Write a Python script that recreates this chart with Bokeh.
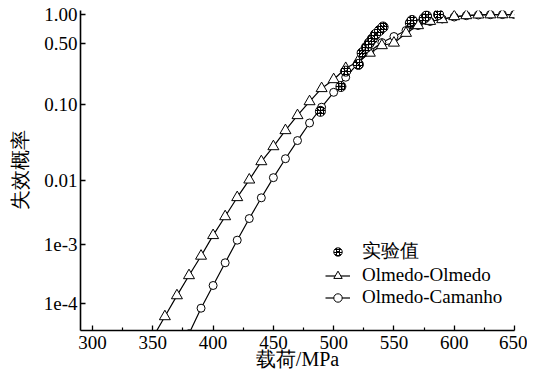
import numpy as np
from bokeh.plotting import figure
from bokeh.models import FixedTicker, Range1d, Legend, LegendItem, ColumnDataSource
from bokeh.embed import file_html
from bokeh.resources import INLINE

# ---------------- data ----------------
load_oo = [350, 360, 370, 380, 390, 400, 410, 420, 430, 440, 450, 460, 470, 480,
           490, 500, 510, 520, 530, 540, 550, 560, 570, 580, 590, 600, 610, 620,
           630, 640, 650]
prob_oo = [2.59e-5, 5.91e-5, 1.35e-4, 2.98e-4, 6.43e-4, 1.40e-3, 2.75e-3, 5.45e-3,
           0.0102, 0.0178, 0.0281, 0.0458, 0.0723, 0.109, 0.154, 0.195, 0.262,
           0.312, 0.392, 0.478, 0.510, 0.643, 0.771, 0.853, 0.889, 0.954, 0.977,
           0.993, 0.996, 0.998, 0.999]

load_oc = [380, 390, 400, 410, 420, 430, 440, 450, 460, 470, 480, 490, 500, 510,
           520, 530, 540, 550, 560, 570, 580, 590, 600, 610, 620, 630, 640, 650]
prob_oc = [3.0e-5, 8.21e-5, 2.01e-4, 4.92e-4, 1.18e-3, 2.56e-3, 5.38e-3, 0.0109,
           0.0194, 0.0337, 0.0575, 0.0929, 0.139, 0.207, 0.297, 0.41, 0.515,
           0.594, 0.685, 0.771, 0.847, 0.899, 0.942, 0.972, 0.988, 0.995, 0.998,
           0.999]

load_exp = [489, 506, 510, 520.5, 523.6, 527, 529.6, 532, 534.6, 538, 541,
            563.6, 565, 575, 577, 587]
prob_exp = [0.082, 0.162, 0.243, 0.290, 0.393, 0.454, 0.510, 0.560, 0.623,
            0.685, 0.744, 0.818, 0.868, 0.910, 0.965, 1.0]

x_ticks = [300, 350, 400, 450, 500, 550, 600, 650]
x_minor = [325, 375, 425, 475, 525, 575, 625]
y_tick_values = [1e-4, 1e-3, 0.01, 0.1, 0.5, 1.0]
y_tick_labels = ["1e-4", "1e-3", "0.01", "0.10", "0.50", "1.00"]

# probability-paper scale of the reference: place of each labelled probability
y_scale_pos = [27.3, 85.7, 150.0, 225.7, 286.7, 316.0]


def prob_scale(F):
    lf = np.log10(np.asarray(F, dtype=float))
    lt = np.log10(np.asarray(y_tick_values))
    pos = np.asarray(y_scale_pos)
    out = np.interp(lf, lt, pos)
    lo = lf < lt[0]
    slope = (pos[1] - pos[0]) / (lt[1] - lt[0])
    out[lo] = pos[0] + (lf[lo] - lt[0]) * slope
    return out


FONT = "Liberation Serif"

p = figure(frame_width=434, frame_height=320, output_backend="svg",
           toolbar_location=None, x_range=Range1d(290, 650),
           y_range=Range1d(0, 320), min_border_left=80, min_border_right=13,
           min_border_top=10, min_border_bottom=46)
p.outline_line_color = None
p.grid.visible = False
p.background_fill_color = "white"

src_oo = ColumnDataSource(dict(x=load_oo, y=prob_scale(prob_oo)))
src_oc = ColumnDataSource(dict(x=load_oc, y=prob_scale(prob_oc)))
src_ex = ColumnDataSource(dict(x=load_exp, y=prob_scale(prob_exp)))

l_oc = p.line("x", "y", source=src_oc, line_color="black", line_width=1.2)
m_oc = p.scatter("x", "y", source=src_oc, marker="circle", size=8,
                 fill_color="white", line_color="black", line_width=1)
l_oo = p.line("x", "y", source=src_oo, line_color="black", line_width=1.2)
m_oo = p.scatter("x", "y", source=src_oo, marker="triangle", size=11,
                 fill_color="white", line_color="black", line_width=1)
m_ex = p.scatter("x", "y", source=src_ex, marker="circle_x", size=10,
                 fill_color="white", line_color="black", line_width=1,
                 hatch_pattern="cross", hatch_scale=3.0, hatch_weight=1.0,
                 hatch_color="black")

# axes
xa = p.xaxis[0]
xa.ticker = FixedTicker(ticks=x_ticks, minor_ticks=x_minor)
xa.axis_label = "载荷/MPa"
ya = p.yaxis[0]
pos_ticks = [float(v) for v in prob_scale(y_tick_values)]
ya.ticker = FixedTicker(ticks=pos_ticks, minor_ticks=[])
ya.major_label_overrides = {t: lab for t, lab in zip(pos_ticks, y_tick_labels)}
ya.axis_label = "失效概率"

for ax in (xa, ya):
    ax.axis_line_width = 1.6
    ax.axis_line_color = "black"
    ax.major_tick_line_color = "black"
    ax.minor_tick_line_color = "black"
    ax.major_tick_line_width = 1.3
    ax.minor_tick_line_width = 1.2
    ax.major_tick_in = 5
    ax.major_tick_out = 0
    ax.minor_tick_in = 3
    ax.minor_tick_out = 0
    ax.major_label_text_font = FONT
    ax.major_label_text_font_size = "19px"
    ax.major_label_text_color = "black"
    ax.axis_label_text_font = FONT
    ax.axis_label_text_font_size = "20px"
    ax.axis_label_text_font_style = "normal"
    ax.axis_label_text_color = "black"
xa.major_label_standoff = 5
xa.axis_label_standoff = -4
ya.major_label_standoff = 3
ya.axis_label_standoff = 10

legend = Legend(items=[
    LegendItem(label="实验值", renderers=[m_ex]),
    LegendItem(label="Olmedo-Olmedo", renderers=[l_oo, m_oo]),
    LegendItem(label="Olmedo-Camanho", renderers=[l_oc, m_oc]),
], location=(245, 22))
legend.border_line_color = None
legend.background_fill_alpha = 0
legend.padding = 0
legend.margin = 0
legend.spacing = -5
legend.glyph_width = 25
legend.glyph_height = 21
legend.label_height = 21
legend.label_standoff = 12
legend.label_text_font = FONT
legend.label_text_font_size = "19px"
legend.label_text_color = "black"
p.add_layout(legend, "center")

open("out.html", "w").write(file_html(p, INLINE))
